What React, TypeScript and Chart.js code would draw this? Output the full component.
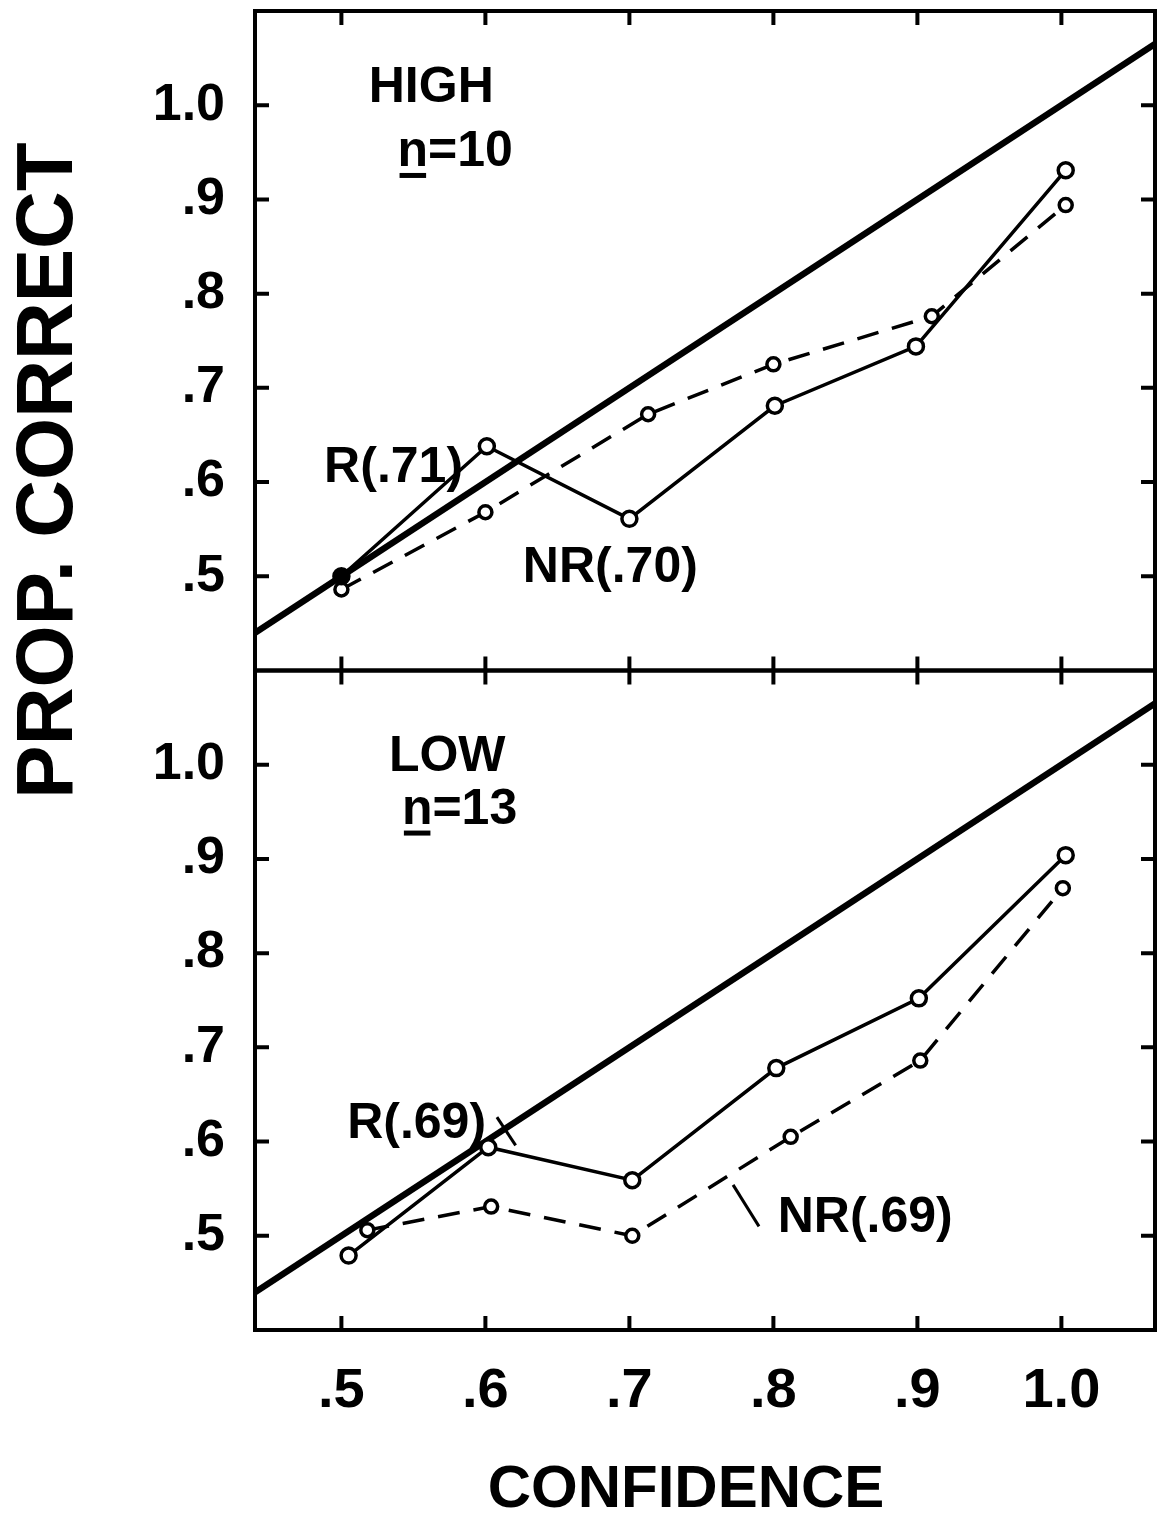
import React, { useEffect, useRef } from 'react';
import { Chart, registerables } from 'chart.js';

Chart.register(...registerables);

// ---- axis ticks ----
const confidenceTicks = [0.5, 0.6, 0.7, 0.8, 0.9, 1.0];
const confidenceLabels = ['.5', '.6', '.7', '.8', '.9', '1.0'];
const propTicks = [0.5, 0.6, 0.7, 0.8, 0.9, 1.0];
const propLabels = ['.5', '.6', '.7', '.8', '.9', '1.0'];

// ---- perfect calibration line ----
const identityX = [0.44, 1.065];
const identityY = [0.44, 1.065];

// ---- HIGH panel (n = 10) ----
const highRConf = [0.5, 0.601, 0.7, 0.801, 0.899, 1.003];
const highR = [0.5, 0.638, 0.561, 0.681, 0.744, 0.931];
const highNRConf = [0.5, 0.6, 0.713, 0.8, 0.91, 1.003];
const highNR = [0.486, 0.568, 0.672, 0.725, 0.776, 0.894];

// ---- LOW panel (n = 13) ----
const lowRConf = [0.505, 0.602, 0.702, 0.802, 0.901, 1.003];
const lowR = [0.479, 0.594, 0.559, 0.678, 0.752, 0.904];
const lowNRConf = [0.518, 0.604, 0.702, 0.812, 0.902, 1.001];
const lowNR = [0.506, 0.531, 0.5, 0.605, 0.686, 0.869];

// ---- label pointer strokes ----
const lowRPointerX = [0.608, 0.621];
const lowRPointerY = [0.626, 0.596];
const lowNRPointerX = [0.772, 0.79];
const lowNRPointerY = [0.554, 0.51];

// ---- text annotations ----
const panelTexts = [
  { axis: 'yTop', text: 'HIGH', x: 0.519, y: 1.003, underline: false },
  { axis: 'yTop', text: 'n=10', x: 0.539, y: 0.935, underline: true },
  { axis: 'yTop', text: 'R(.71)', x: 0.488, y: 0.6, underline: false },
  { axis: 'yTop', text: 'NR(.70)', x: 0.626, y: 0.494, underline: false },
  { axis: 'yBot', text: 'LOW', x: 0.533, y: 0.993, underline: false },
  { axis: 'yBot', text: 'n=13', x: 0.542, y: 0.937, underline: true },
  { axis: 'yBot', text: 'R(.69)', x: 0.504, y: 0.604, underline: false },
  { axis: 'yBot', text: 'NR(.69)', x: 0.803, y: 0.504, underline: false },
];

const yTitle = 'PROP. CORRECT';
const xTitle = 'CONFIDENCE';

const FONT = "'Liberation Sans', Arial, sans-serif";
const TICK = 14;

const pts = (xs: number[], ys: number[]) => xs.map((x, i) => ({ x, y: ys[i] }));

const labelFor = (vals: number[], labels: string[]) => (value: any) => {
  const i = vals.findIndex((t) => Math.abs(t - Number(value)) < 1e-6);
  return i >= 0 ? labels[i] : '';
};

const framePlugin = {
  id: 'framePlugin',
  afterDatasetsDraw(chart: any) {
    const ctx = chart.ctx as CanvasRenderingContext2D;
    const { left, right } = chart.chartArea;
    const xs = chart.scales.x;
    ctx.save();
    ctx.strokeStyle = '#000';
    ctx.fillStyle = '#000';
    ctx.lineWidth = 4;
    ['yTop', 'yBot'].forEach((id) => {
      const ys = chart.scales[id];
      ctx.strokeRect(left, ys.top, right - left, ys.bottom - ys.top);
      ctx.beginPath();
      confidenceTicks.forEach((v) => {
        const px = xs.getPixelForValue(v);
        ctx.moveTo(px, ys.top);
        ctx.lineTo(px, ys.top + TICK);
        ctx.moveTo(px, ys.bottom);
        ctx.lineTo(px, ys.bottom - TICK);
      });
      propTicks.forEach((v) => {
        const py = ys.getPixelForValue(v);
        ctx.moveTo(left, py);
        ctx.lineTo(left + TICK, py);
        ctx.moveTo(right, py);
        ctx.lineTo(right - TICK, py);
      });
      ctx.stroke();
    });

    // panel annotations
    ctx.font = `bold 50px ${FONT}`;
    ctx.textAlign = 'left';
    ctx.textBaseline = 'alphabetic';
    panelTexts.forEach((t) => {
      const px = xs.getPixelForValue(t.x);
      const py = chart.scales[t.axis].getPixelForValue(t.y);
      ctx.fillText(t.text, px, py);
      if (t.underline) {
        const w = ctx.measureText(t.text[0]).width;
        ctx.lineWidth = 5;
        ctx.beginPath();
        ctx.moveTo(px + 2, py + 9);
        ctx.lineTo(px + w - 2, py + 9);
        ctx.stroke();
      }
    });

    // x title
    ctx.font = `bold 60px ${FONT}`;
    ctx.textAlign = 'center';
    ctx.textBaseline = 'middle';
    ctx.fillText(xTitle, 686, chart.chartArea.bottom + 160);

    // shared y title
    const yb = chart.scales.yBot;
    ctx.font = `bold 80px ${FONT}`;
    ctx.translate(50, yb.top - 200);
    ctx.rotate(-Math.PI / 2);
    ctx.fillText(yTitle, 0, 0);
    ctx.restore();
  },
};

const zeroPad = (s: any) => {
  s.paddingTop = 0;
  s.paddingBottom = 0;
  s.paddingLeft = 0;
  s.paddingRight = 0;
};

export default function App() {
  const ref = useRef<HTMLCanvasElement>(null);

  useEffect(() => {
    if (!ref.current) return;
    const lineBase = {
      showLine: true,
      borderColor: '#000',
      pointBorderColor: '#000',
      pointBackgroundColor: '#fff',
      pointBorderWidth: 3.5,
      fill: false,
      tension: 0,
      order: 1,
    };
    const rStyle = { ...lineBase, borderWidth: 3.5, pointRadius: 7.5 };
    const nrStyle = { ...lineBase, borderWidth: 3.5, borderDash: [22, 14], pointRadius: 6.5 };
    const diagStyle = { showLine: true, borderColor: '#000', borderWidth: 6.5, pointRadius: 0, order: 5 };
    const pointerStyle = { showLine: true, borderColor: '#000', borderWidth: 3, pointRadius: 0, order: 2 };

    const yAxis = {
      type: 'linear',
      position: 'left',
      stack: 'panels',
      stackWeight: 1,
      min: 0.4,
      max: 1.1,
      grid: { display: false, drawTicks: false },
      border: { display: false },
      afterBuildTicks: (s: any) => {
        s.ticks = propTicks.map((v) => ({ value: v }));
      },
      afterFit: (s: any) => {
        s.width = 255;
        zeroPad(s);
      },
      ticks: {
        callback: labelFor(propTicks, propLabels),
        color: '#000',
        padding: 30,
        font: { family: FONT, size: 52, weight: 'bold' },
      },
    };

    const chart = new Chart(ref.current, {
      type: 'scatter',
      data: {
        datasets: [
          { ...diagStyle, label: 'identity high', yAxisID: 'yTop', data: pts(identityX, identityY) },
          {
            ...rStyle,
            label: 'R (.71)',
            yAxisID: 'yTop',
            data: pts(highRConf, highR),
            pointBackgroundColor: ['#000', '#fff', '#fff', '#fff', '#fff', '#fff'],
          },
          { ...nrStyle, label: 'NR (.70)', yAxisID: 'yTop', data: pts(highNRConf, highNR) },
          { ...diagStyle, label: 'identity low', yAxisID: 'yBot', data: pts(identityX, identityY) },
          { ...rStyle, label: 'R (.69)', yAxisID: 'yBot', data: pts(lowRConf, lowR) },
          { ...nrStyle, label: 'NR (.69)', yAxisID: 'yBot', data: pts(lowNRConf, lowNR) },
          { ...pointerStyle, label: 'R pointer', yAxisID: 'yBot', data: pts(lowRPointerX, lowRPointerY) },
          { ...pointerStyle, label: 'NR pointer', yAxisID: 'yBot', data: pts(lowNRPointerX, lowNRPointerY) },
        ] as any,
      },
      options: {
        responsive: false,
        animation: false,
        devicePixelRatio: 1,
        layout: { padding: { top: 11, right: 6, left: 0, bottom: 0 } },
        plugins: {
          legend: { display: false },
          tooltip: { enabled: false },
        },
        scales: {
          x: {
            type: 'linear',
            min: 0.44,
            max: 1.065,
            grid: { display: false, drawTicks: false },
            border: { display: false },
            afterBuildTicks: (s: any) => {
              s.ticks = confidenceTicks.map((v) => ({ value: v }));
            },
            afterFit: (s: any) => {
              s.height = 192;
              zeroPad(s);
            },
            ticks: {
              callback: labelFor(confidenceTicks, confidenceLabels),
              color: '#000',
              padding: 28,
              maxRotation: 0,
              autoSkip: false,
              font: { family: FONT, size: 56, weight: 'bold' },
            },
          },
          yBot: { ...yAxis },
          yTop: { ...yAxis },
        },
      } as any,
      plugins: [framePlugin],
    });
    return () => chart.destroy();
  }, []);

  return (
    <div style={{ position: 'absolute', left: 0, top: 0, width: 1166, height: 1522, background: '#fff' }}>
      <canvas ref={ref} width={1166} height={1522} style={{ display: 'block' }} />
    </div>
  );
}
